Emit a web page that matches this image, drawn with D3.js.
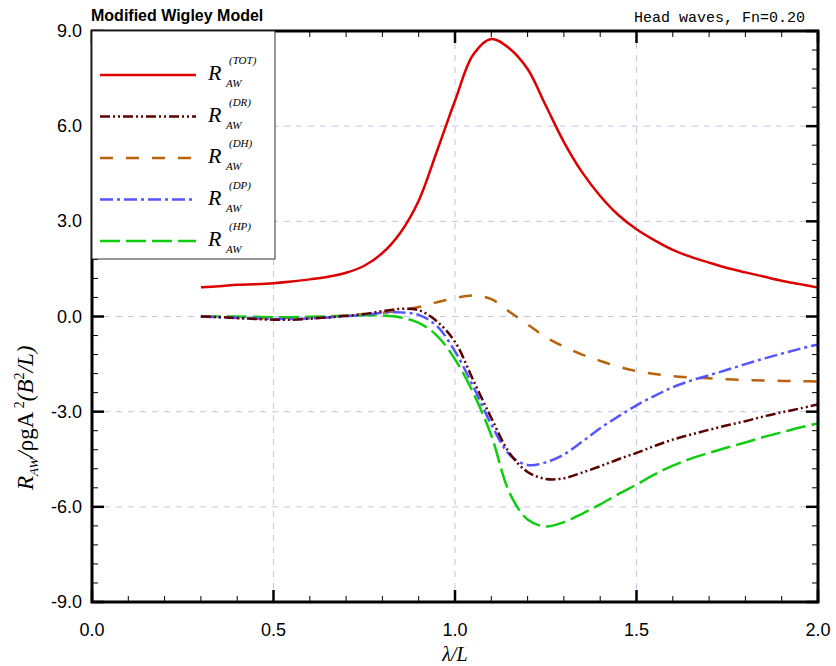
<!DOCTYPE html>
<html>
<head>
<meta charset="utf-8">
<script src="https://cdn.jsdelivr.net/npm/d3@7"></script>
<style>
  body { margin: 0; background: #fff; }
  svg { display: block; }
  .tick-label { font-family: "Liberation Sans Narrow", Arial, sans-serif; font-size: 18px; fill: #000; }
  .math { font-family: "Liberation Serif", "Times New Roman", serif; font-style: italic; fill: #000; }
</style>
</head>
<body>
<div id="chart"></div>
<script>
// wavelength ratio lambda/L
const lambda = [0.3, 0.35, 0.4, 0.45, 0.5, 0.55, 0.6, 0.65, 0.7, 0.75, 0.8, 0.85, 0.9, 0.95, 1.0,
  1.05, 1.1, 1.15, 1.2, 1.25, 1.3, 1.35, 1.4, 1.45, 1.5, 1.55, 1.6, 1.65, 1.7, 1.75, 1.8, 1.85, 1.9, 1.95, 2.0];

const rTot = [0.92, 0.95, 1.0, 1.02, 1.05, 1.1, 1.17, 1.25, 1.38, 1.6, 2.0, 2.65, 3.65, 5.2, 6.8,
  8.25, 8.75, 8.45, 7.8, 6.65, 5.5, 4.55, 3.8, 3.2, 2.75, 2.4, 2.1, 1.88, 1.7, 1.53, 1.39, 1.26, 1.13, 1.02, 0.91];
const rDR = [0, -0.02, -0.05, -0.08, -0.1, -0.1, -0.07, -0.03, 0.02, 0.08, 0.17, 0.24, 0.2, -0.15, -0.8,
  -2.0, -3.2, -4.3, -4.9, -5.12, -5.1, -4.92, -4.72, -4.5, -4.3, -4.08, -3.88, -3.72, -3.57, -3.43, -3.3, -3.15, -3.02, -2.9, -2.77];
const rDH = [0, -0.02, -0.05, -0.06, -0.05, -0.04, -0.02, 0, 0.03, 0.07, 0.12, 0.2, 0.3, 0.45, 0.58,
  0.66, 0.55, 0.15, -0.25, -0.65, -0.95, -1.2, -1.4, -1.58, -1.72, -1.81, -1.88, -1.92, -1.95, -1.98, -2.0, -2.02, -2.03, -2.04, -2.05];
const rDP = [0, -0.02, -0.04, -0.06, -0.08, -0.08, -0.06, -0.03, 0.01, 0.05, 0.12, 0.13, 0.05, -0.3, -1.1,
  -2.2, -3.4, -4.35, -4.68, -4.6, -4.35, -3.95, -3.52, -3.15, -2.8, -2.5, -2.23, -2.02, -1.85, -1.68, -1.5, -1.33, -1.17, -1.02, -0.88];
const rHP = [0, 0, 0, -0.01, -0.02, -0.02, -0.01, 0, 0.02, 0.04, 0.03, -0.03, -0.2, -0.6, -1.35,
  -2.4, -3.75, -5.55, -6.4, -6.62, -6.48, -6.22, -5.92, -5.6, -5.3, -4.98, -4.7, -4.48, -4.3, -4.13, -3.97, -3.8, -3.65, -3.5, -3.37];

const seriesNames = ['TOT', 'DR', 'DH', 'DP', 'HP'];
const seriesValues = [rTot, rDR, rDH, rDP, rHP];

const xTicks = [0.0, 0.5, 1.0, 1.5, 2.0];
const yTicks = [-9, -6, -3, 0, 3, 6, 9];

const styles = {
  TOT: { color: '#dd0000', dash: null },
  DR:  { color: '#5c0000', dash: '10,3,2,3,2,3' },
  DH:  { color: '#b8620c', dash: '13,13' },
  DP:  { color: '#5555ff', dash: '13,4,3,4' },
  HP:  { color: '#11cc11', dash: '20,6' }
};

const width = 836, height = 666;
const margin = { top: 31, right: 18, bottom: 64, left: 92 };
const innerW = width - margin.left - margin.right;
const innerH = height - margin.top - margin.bottom;

const svg = d3.select('#chart').append('svg')
  .attr('width', width)
  .attr('height', height);

const g = svg.append('g').attr('transform', `translate(${margin.left},${margin.top})`);

const x = d3.scaleLinear().domain([0, 2]).range([0, innerW]);
const y = d3.scaleLinear().domain([-9, 9]).range([innerH, 0]);

// grid lines
g.append('g').selectAll('line')
  .data(xTicks.filter(d => d > 0 && d < 2))
  .enter().append('line')
  .attr('x1', d => x(d)).attr('x2', d => x(d))
  .attr('y1', 0).attr('y2', innerH)
  .attr('stroke', '#c4c4e8').attr('stroke-width', 1).attr('stroke-dasharray', '6,6');

g.append('g').selectAll('line')
  .data(yTicks.filter(d => d > -9 && d < 9))
  .enter().append('line')
  .attr('x1', 0).attr('x2', innerW)
  .attr('y1', d => y(d)).attr('y2', d => y(d))
  .attr('stroke', '#c4c4e8').attr('stroke-width', 1).attr('stroke-dasharray', '6,6');

// curves
const line = d3.line()
  .x(d => x(d[0]))
  .y(d => y(d[1]))
  .curve(d3.curveCatmullRom.alpha(0.5));

const drawOrder = ['DH', 'HP', 'DP', 'DR', 'TOT'];
drawOrder.forEach(name => {
  const vals = seriesValues[seriesNames.indexOf(name)];
  const pts = lambda.map((l, i) => [l, vals[i]]);
  g.append('path')
    .datum(pts)
    .attr('fill', 'none')
    .attr('stroke', styles[name].color)
    .attr('stroke-width', 2.5)
    .attr('stroke-dasharray', styles[name].dash)
    .attr('d', line);
});

// ticks (inward on all four sides)
const xMinor = d3.range(0, 2.0001, 0.1);
const yMinor = d3.range(-9, 9.0001, 0.6);
const ticks = g.append('g').attr('stroke', '#000');

xMinor.forEach(v => {
  const major = xTicks.some(t => Math.abs(t - v) < 1e-6);
  const len = major ? 12 : 6;
  const w = major ? 2.5 : 1;
  ticks.append('line').attr('x1', x(v)).attr('x2', x(v)).attr('y1', innerH).attr('y2', innerH - len).attr('stroke-width', w);
  ticks.append('line').attr('x1', x(v)).attr('x2', x(v)).attr('y1', 0).attr('y2', len).attr('stroke-width', w);
});
yMinor.forEach(v => {
  const major = yTicks.some(t => Math.abs(t - v) < 1e-6);
  const len = major ? 12 : 6;
  const w = major ? 2.5 : 1;
  ticks.append('line').attr('x1', 0).attr('x2', len).attr('y1', y(v)).attr('y2', y(v)).attr('stroke-width', w);
  ticks.append('line').attr('x1', innerW).attr('x2', innerW - len).attr('y1', y(v)).attr('y2', y(v)).attr('stroke-width', w);
});

// frame
g.append('rect')
  .attr('x', 0).attr('y', 0)
  .attr('width', innerW).attr('height', innerH)
  .attr('fill', 'none').attr('stroke', '#000').attr('stroke-width', 3);

// tick labels
g.append('g').selectAll('text')
  .data(xTicks)
  .enter().append('text')
  .attr('class', 'tick-label')
  .attr('x', d => x(d))
  .attr('y', innerH + 34)
  .attr('text-anchor', 'middle')
  .text(d => d.toFixed(1));

g.append('g').selectAll('text')
  .data(yTicks)
  .enter().append('text')
  .attr('class', 'tick-label')
  .attr('x', -10)
  .attr('y', d => y(d) + 6)
  .attr('text-anchor', 'end')
  .text(d => d.toFixed(1));

// legend
const legend = g.append('g');
legend.append('rect')
  .attr('x', 0).attr('y', 0)
  .attr('width', 183).attr('height', 228)
  .attr('fill', '#fff').attr('stroke', '#333').attr('stroke-width', 1);

seriesNames.forEach((name, i) => {
  const ry = 44 + i * 41.5;
  legend.append('line')
    .attr('x1', 8).attr('x2', 104)
    .attr('y1', ry).attr('y2', ry)
    .attr('stroke', styles[name].color)
    .attr('stroke-width', 2.5)
    .attr('stroke-dasharray', styles[name].dash);
  legend.append('text').attr('class', 'math')
    .attr('x', 116).attr('y', ry + 5)
    .style('font-size', '22px').text('R');
  legend.append('text').attr('class', 'math')
    .attr('x', 134).attr('y', ry + 12)
    .style('font-size', '11px').text('AW');
  legend.append('text').attr('class', 'math')
    .attr('x', 137).attr('y', ry - 11)
    .style('font-size', '11px').text(`(${name})`);
});

// titles
svg.append('text')
  .attr('x', 91).attr('y', 21)
  .style('font-family', 'Arial, "Liberation Sans", sans-serif')
  .style('font-weight', 'bold')
  .style('font-size', '16px')
  .text('Modified Wigley Model');

svg.append('text')
  .attr('x', 805).attr('y', 22)
  .attr('text-anchor', 'end')
  .style('font-family', '"Liberation Mono", "Courier New", monospace')
  .style('font-size', '15px')
  .text('Head waves, Fn=0.20');

// axis labels
svg.append('text').attr('class', 'math')
  .attr('x', margin.left + innerW / 2).attr('y', 661)
  .attr('text-anchor', 'middle')
  .style('font-size', '20px')
  .text('λ/L');

const yl = svg.append('text').attr('class', 'math')
  .attr('transform', 'translate(33,490) rotate(-90)')
  .style('font-size', '23px');
yl.append('tspan').text('R');
yl.append('tspan').attr('dy', 5).style('font-size', '13px').text('AW');
yl.append('tspan').attr('dy', -5).text('/');
yl.append('tspan').style('font-style', 'normal').text('ρgA');
yl.append('tspan').attr('dy', -9).style('font-size', '14px').style('font-style', 'normal').text(' 2');
yl.append('tspan').attr('dy', 9).text('(B');
yl.append('tspan').attr('dy', -9).style('font-size', '14px').style('font-style', 'normal').text('2');
yl.append('tspan').attr('dy', 9).text('/L)');
</script>
</body>
</html>
